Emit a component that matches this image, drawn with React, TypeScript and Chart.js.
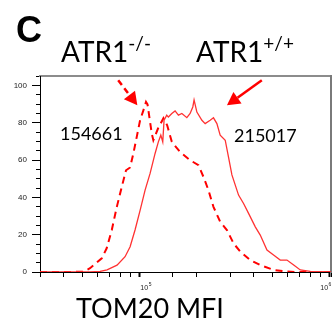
import React, { useEffect, useRef } from "react";
import { Chart, registerables } from "chart.js";

Chart.register(...registerables);

// ATR1+/+ (solid) histogram: TOM20 MFI vs % of max
const solidX = [30000, 55000, 62100, 67600, 76300, 84100, 89400, 94900, 100900, 107200, 113900, 121000, 125900, 129700, 132800, 134900, 139400, 142200, 148200, 154200, 160600, 167400, 177800, 185000, 191100, 194100, 200800, 213400, 222000, 235900, 245500, 255900, 266300, 283100, 294600, 307000, 332700, 353500, 375600, 407500, 432800, 469500, 508500, 551500, 598000, 649000, 703000, 794000, 1020000];
const solidY = [0, 0, 0.3, 1.1, 3.7, 8.2, 13.5, 22.5, 33, 43.9, 52.8, 63.5, 69.7, 73.3, 69.7, 81.3, 84, 83, 84.9, 86.3, 84, 84.9, 82.7, 84.9, 88.4, 92.2, 85.7, 81.3, 79.5, 81.3, 82.6, 79.5, 73.3, 70.6, 61.6, 52, 41.2, 36.7, 31.4, 24.2, 19.8, 11.8, 9.1, 6.4, 6.4, 3.7, 1.1, 0.3, 0];

// ATR1-/- (dashed) histogram
const dashX = [30000, 43200, 50700, 55000, 63400, 67300, 71600, 76100, 80800, 85100, 89400, 93000, 96900, 100900, 105000, 108400, 110400, 112900, 116200, 118500, 125500, 133900, 140100, 148200, 164000, 185000, 204700, 217400, 230900, 245500, 266300, 288900, 313300, 339700, 383400, 432800, 508500, 586000, 662000, 1020000];
const dashY = [0, 0, 0.2, 2, 7.3, 12.7, 22.5, 34.9, 45.6, 54.5, 56, 63.5, 72.4, 81.3, 86.6, 91.1, 89.8, 83, 74.2, 70.6, 77, 82.4, 78.6, 69.7, 64.2, 59.9, 57.2, 51, 43.9, 34.9, 26.9, 22.5, 15.3, 10.9, 6.4, 3.7, 1.1, 0.3, 0, 0];

// axes
const xRange = [30000, 1020000];
const yRange = [0, 105];
const yMajorStep = 20;
const yMinorStep = 5;
const xMajorTicks = [100000, 1000000];
const xMajorBase = ["10", "10"];
const xMajorExp = ["5", "6"];
const xMajorAlign = ["start", "end"];

// annotation arrows in data coordinates [from, to]
const arrowMinus = [[77400, 102.7], [97600, 89.3]];
const arrowPlus = [[441000, 102.7], [289000, 89.3]];

// annotation texts
const labelMinus = "ATR1";
const supMinus = "-/-";
const labelPlus = "ATR1";
const supPlus = "+/+";
const mfiMinus = "154661";
const mfiPlus = "215017";
const xTitle = "TOM20 MFI";
const panelLetter = "C";

const RED = "rgb(255,0,0)";
const TICK_FAMILY = "'Liberation Sans', Arial, sans-serif";

const arrowPlugin = {
  id: "arrows",
  afterDatasetsDraw(chart: any) {
    const { ctx } = chart;
    const xs = chart.scales.x;
    const ys = chart.scales.y;
    const draw = (arr: number[][], dashed: boolean) => {
      const x1 = xs.getPixelForValue(arr[0][0]);
      const y1 = ys.getPixelForValue(arr[0][1]);
      const x2 = xs.getPixelForValue(arr[1][0]);
      const y2 = ys.getPixelForValue(arr[1][1]);
      const ang = Math.atan2(y2 - y1, x2 - x1);
      const L = 13;
      const W = 7;
      const bx = x2 - L * Math.cos(ang);
      const by = y2 - L * Math.sin(ang);
      ctx.save();
      ctx.strokeStyle = RED;
      ctx.fillStyle = RED;
      ctx.lineWidth = 2.5;
      ctx.setLineDash(dashed ? [6, 4] : []);
      ctx.beginPath();
      ctx.moveTo(x1, y1);
      ctx.lineTo(bx, by);
      ctx.stroke();
      ctx.setLineDash([]);
      ctx.beginPath();
      ctx.moveTo(x2, y2);
      ctx.lineTo(bx + W * Math.sin(ang), by - W * Math.cos(ang));
      ctx.lineTo(bx - W * Math.sin(ang), by + W * Math.cos(ang));
      ctx.closePath();
      ctx.fill();
      ctx.restore();
    };
    draw(arrowMinus, true);
    draw(arrowPlus, false);
  },
};

// power-of-ten labels with a raised exponent, placed at the x scale's tick pixels
const powerLabelPlugin = {
  id: "powerLabels",
  afterDraw(chart: any) {
    const { ctx } = chart;
    const xs = chart.scales.x;
    ctx.save();
    ctx.fillStyle = "#222";
    ctx.textBaseline = "alphabetic";
    ctx.textAlign = "left";
    xMajorTicks.forEach((v, i) => {
      const px = xs.getPixelForValue(v);
      ctx.font = `7px ${TICK_FAMILY}`;
      const wb = ctx.measureText(xMajorBase[i]).width;
      ctx.font = `5px ${TICK_FAMILY}`;
      const we = ctx.measureText(xMajorExp[i]).width;
      const total = wb + we + 0.5;
      const left = xMajorAlign[i] === "start" ? px + 1 : px + 2 - total;
      const base = xs.top + 18;
      ctx.font = `7px ${TICK_FAMILY}`;
      ctx.fillText(xMajorBase[i], left, base);
      ctx.font = `5px ${TICK_FAMILY}`;
      ctx.fillText(xMajorExp[i], left + wb + 0.5, base - 4);
    });
    ctx.restore();
  },
};

export default function App() {
  const ref = useRef<HTMLCanvasElement | null>(null);

  useEffect(() => {
    if (!ref.current) return;
    const tickFont = { family: TICK_FAMILY, size: 8 };
    const chart = new Chart(ref.current, {
      type: "line",
      data: {
        datasets: [
          {
            label: "ATR1+/+",
            data: solidX.map((x, i) => ({ x, y: solidY[i] })),
            borderColor: "rgb(255,50,50)",
            borderWidth: 1.3,
            pointRadius: 0,
            tension: 0,
            fill: false,
          },
          {
            label: "ATR1-/-",
            data: dashX.map((x, i) => ({ x, y: dashY[i] })),
            borderColor: RED,
            borderWidth: 2,
            borderDash: [7, 5],
            pointRadius: 0,
            tension: 0,
            fill: false,
          },
        ],
      },
      options: {
        responsive: false,
        animation: false,
        devicePixelRatio: 1,
        layout: { padding: { top: 76, right: 5, left: 0, bottom: 0 } },
        plugins: { legend: { display: false }, tooltip: { enabled: false }, title: { display: false } },
        scales: {
          x: {
            type: "logarithmic",
            position: "bottom",
            min: xRange[0],
            max: xRange[1],
            afterFit: (s: any) => { s.height = 54; },
            grid: {
              drawOnChartArea: false,
              tickLength: 5,
              tickColor: "#000",
              tickWidth: (c: any) => (c.tick && xMajorTicks.some((v) => Math.abs(v - c.tick.value) < 1) ? 2 : 1),
            },
            border: { display: true, color: "#000", width: 1 },
            ticks: {
              autoSkip: false,
              maxRotation: 0,
              padding: 2,
              font: tickFont,
              callback: () => "",
            },
          },
          xTop: {
            type: "logarithmic",
            position: "top",
            min: xRange[0],
            max: xRange[1],
            afterFit: (s: any) => { s.height = 0; },
            grid: { display: false },
            ticks: { display: false },
            border: { display: true, color: "#8c8c8c", width: 2 },
          },
          y: {
            type: "linear",
            position: "left",
            weight: 2,
            min: yRange[0],
            max: yRange[1],
            afterFit: (s: any) => { s.width = 40; },
            grid: { drawOnChartArea: false, tickLength: 8, tickColor: "#000", tickWidth: 1 },
            border: { display: true, color: "#000", width: 1 },
            ticks: {
              stepSize: yMajorStep,
              includeBounds: false,
              padding: 5,
              color: "#222",
              font: tickFont,
            },
          },
          yMinor: {
            type: "linear",
            position: "left",
            weight: 1,
            min: yRange[0],
            max: yRange[1],
            afterFit: (s: any) => { s.width = 0; },
            grid: { drawOnChartArea: false, tickLength: 4, tickColor: "#000", tickWidth: 1 },
            border: { display: false },
            ticks: { stepSize: yMinorStep, includeBounds: false, display: false },
          },
          yRight: {
            type: "linear",
            position: "right",
            min: yRange[0],
            max: yRange[1],
            afterFit: (s: any) => { s.width = 0; },
            grid: { display: false },
            ticks: { display: false },
            border: { display: true, color: "#7a7a7a", width: 2 },
          },
        },
      },
      plugins: [arrowPlugin, powerLabelPlugin],
    } as any);
    return () => chart.destroy();
  }, []);

  const abs = (left: number, top: number, size: number, extra: any = {}) => ({
    position: "absolute" as const,
    left,
    top,
    fontSize: size,
    lineHeight: size + "px",
    whiteSpace: "nowrap" as const,
    fontFamily: "Lato, 'Open Sans', sans-serif",
    color: "#000",
    ...extra,
  });

  return (
    <div style={{ position: "absolute", left: 0, top: 0, width: 336, height: 326, background: "#fff" }}>
      <canvas ref={ref} width={336} height={326} style={{ display: "block", width: 336, height: 326 }} />
      <div style={abs(16, 12, 36, { fontFamily: "'Liberation Sans', Arial, sans-serif", fontWeight: "bold" })}>{panelLetter}</div>
      <div style={abs(61, 37, 28)}>
        {labelMinus}
        <span style={{ fontSize: 19, lineHeight: "0px", position: "relative", top: -12 }}>{supMinus}</span>
      </div>
      <div style={abs(196, 37, 28)}>
        {labelPlus}
        <span style={{ fontSize: 19, lineHeight: "0px", position: "relative", top: -12 }}>{supPlus}</span>
      </div>
      <div style={abs(60, 124, 18)}>{mfiMinus}</div>
      <div style={abs(234, 126, 18)}>{mfiPlus}</div>
      <div style={abs(76, 294, 27)}>{xTitle}</div>
    </div>
  );
}
